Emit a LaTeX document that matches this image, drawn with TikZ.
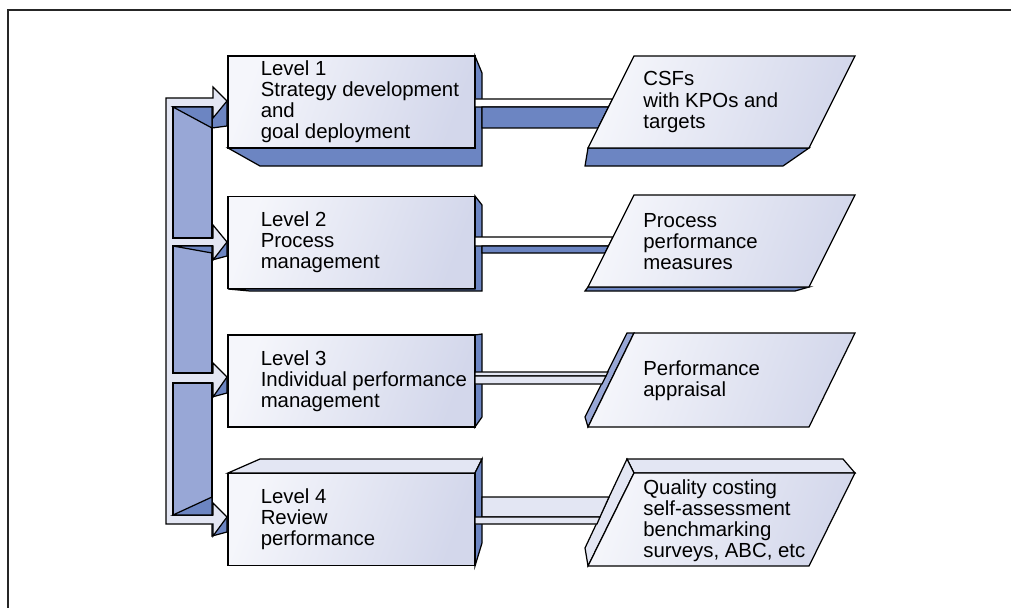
\documentclass[tikz,border=0pt]{standalone}
\usepackage{fontspec}
\setmainfont{Liberation Sans}
\usetikzlibrary{positioning}

\definecolor{sidedark}{HTML}{6C85C2}
\definecolor{sidemid}{HTML}{98A7D6}
\definecolor{facepale}{HTML}{E3E6F3}
\definecolor{facelight}{HTML}{F5F6FB}
\definecolor{faceshade}{HTML}{D3D7EB}
\definecolor{framegray}{HTML}{262626}

\begin{document}
\begin{tikzpicture}[x=0.02cm, y=-0.02cm,
    levelbox/.style={draw, line width=0.7pt, minimum width=4.94cm, minimum height=1.84cm, inner sep=0pt,
      left color=facelight, right color=faceshade, shading angle=70},
    lvltext/.style={anchor=west, align=left, inner sep=0pt, font=\fontsize{11.6}{12}\selectfont},
    pface/.style={draw, line width=0.7pt, left color=facelight, right color=faceshade, shading angle=70},
    dark/.style={draw, line width=0.7pt, fill=sidedark},
    mid/.style={draw, line width=0.7pt, fill=sidemid},
    pale/.style={draw, line width=0.7pt, fill=facepale}
]
\useasboundingbox (0,0) rectangle (1011,608);

% frame
\draw[framegray, line width=1.7pt] (8,608) -- (8,10) -- (1011,10);

% depth faces of the level boxes
\draw[dark] (228,148) -- (260,166) -- (482,166) -- (482,73) -- (475,56) -- (475,148) -- cycle;
\draw[dark] (228,289) -- (250,291) -- (482,291) -- (482,205) -- (475,196) -- (475,289) -- cycle;
\draw[dark] (475,335) -- (482,334) -- (482,417) -- (475,427) -- cycle;
\draw[pale] (228,473) -- (260,459) -- (482,459) -- (475,473) -- cycle;
\draw[dark] (475,473) -- (482,459) -- (482,543) -- (475,566) -- cycle;

% level boxes
\node[levelbox] (l1) at (351.5,102) {};
\node[levelbox] (l2) at (351.5,242.5) {};
\node[levelbox] (l3) at (351.5,381) {};
\node[levelbox] (l4) at (351.5,519.5) {};

\node[lvltext, right=0.66cm of l1.west] (t1) {Level 1\\Strategy development\\and\\goal deployment};
\node[lvltext, right=0.66cm of l2.west] (t2) {Level 2\\Process\\management};
\node[lvltext, right=0.66cm of l3.west] (t3) {Level 3\\Individual performance\\management};
\node[lvltext, right=0.66cm of l4.west] (t4) {Level 4\\Review\\performance};

% depth faces of the outputs
\draw[dark] (588,148) -- (585,166) -- (783,166) -- (809,148) -- cycle;
\draw[dark] (588,287) -- (585,291) -- (795,291) -- (809,287) -- cycle;
\draw[mid] (634,333) -- (627,333) -- (585,417) -- (588,427) -- cycle;
\draw[pale] (634,473) -- (627,459) -- (843,459) -- (855,473) -- cycle;
\draw[pale] (634,473) -- (627,459) -- (585,548) -- (588,566) -- cycle;

% links from levels to outputs
\draw[pale, fill=white] (475,99) -- (612.5,99) -- (608.5,107) -- (475,107) -- cycle;
\draw[dark] (482,107) -- (608.5,107) -- (598,128) -- (482,128) -- cycle;
\draw[pale, fill=white] (475,237) -- (613,237) -- (608.5,246) -- (475,246) -- cycle;
\draw[dark] (482,246) -- (608.5,246) -- (605,253) -- (482,253) -- cycle;
\draw[pale] (475,372) -- (608,372) -- (606,376) -- (475,376) -- cycle;
\draw[pale] (475,376) -- (606,376) -- (602,384) -- (475,384) -- cycle;
\draw[pale] (482,497) -- (609,497) -- (600,517) -- (482,517) -- cycle;
\draw[pale] (475,517) -- (600,517) -- (597,524) -- (475,524) -- cycle;

% outputs
\draw[pface] (634,56) -- (855,56) -- (809,148) -- (588,148) -- cycle;
\draw[pface] (634,195) -- (855,195) -- (809,287) -- (588,287) -- cycle;
\draw[pface] (634,333) -- (855,333) -- (809,427) -- (588,427) -- cycle;
\draw[pface] (634,473) -- (855,473) -- (809,566) -- (588,566) -- cycle;

\node[lvltext] (p1) at (643,102) {CSFs\\with KPOs and\\targets};
\node[lvltext] (p2) at (643,242) {Process\\performance\\measures};
\node[lvltext] (p3) at (643,381) {Performance\\appraisal};
\node[lvltext] (p4) at (643,521) {Quality costing\\self-assessment\\benchmarking\\surveys, ABC, etc};

% feedback arrow
\draw[dark] (212,101) -- (227,101) -- (227,126) -- (212,128) -- cycle;
\draw[dark] (212,242) -- (227,242) -- (227,256) -- (212,260) -- cycle;
\draw[dark] (212,377) -- (227,377) -- (227,393) -- (212,397) -- cycle;
\draw[dark] (212,517) -- (227,517) -- (227,532) -- (212,536) -- cycle;
\draw[pale] (166,98) -- (213,98) -- (213,87) -- (227,101) -- (213,118) -- (213,107)
  -- (173,107) -- (173,238) -- (213,238) -- (213,225) -- (227,242) -- (213,260) -- (213,246)
  -- (173,246) -- (173,373) -- (213,373) -- (213,363) -- (227,377) -- (213,397) -- (213,383)
  -- (173,383) -- (173,515) -- (213,515) -- (213,503) -- (227,517) -- (213,536) -- (213,524)
  -- (166,524) -- cycle;
\draw[mid] (173,107) rectangle (212,238);
\draw[mid] (173,246) rectangle (212,373);
\draw[mid] (173,383) rectangle (212,515);
\draw[dark] (173,107) -- (212,107) -- (212,128) -- cycle;
\draw[dark] (173,246) -- (212,246) -- (212,253) -- cycle;
\draw[dark] (173,515) -- (212,497) -- (212,515) -- cycle;
\end{tikzpicture}
\end{document}
